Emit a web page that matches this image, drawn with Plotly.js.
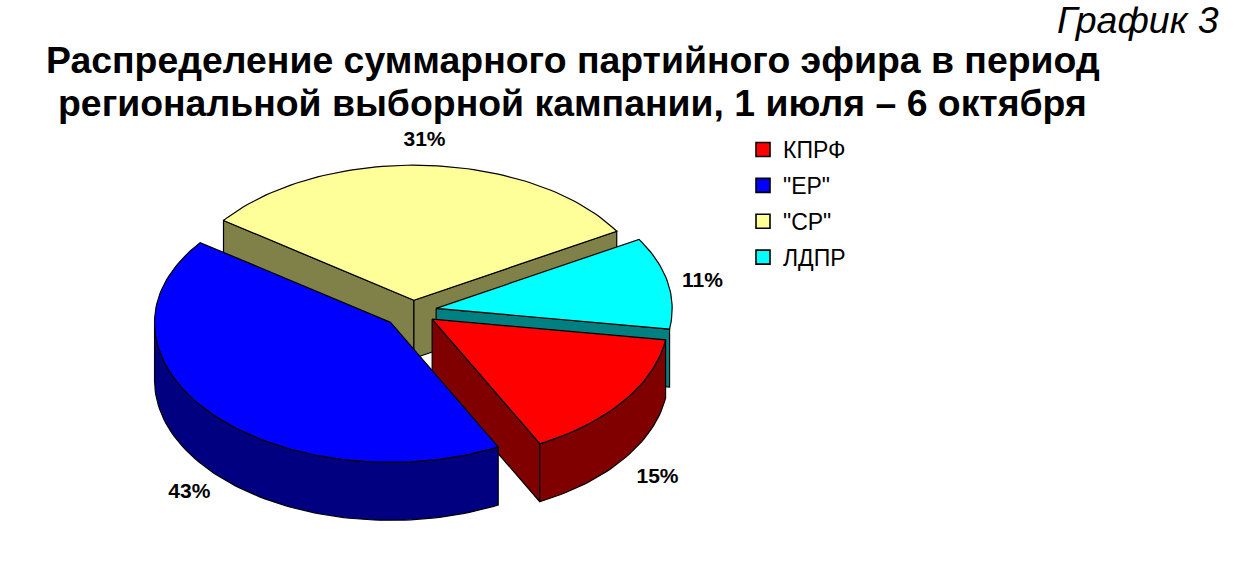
<!DOCTYPE html>
<html><head><meta charset="utf-8">
<script src="https://cdn.plot.ly/plotly-3.0.1.min.js"></script>
<style>html,body{margin:0;padding:0;background:#fff}#c{width:1245px;height:562px}</style>
</head><body><div id="c"></div>
<script>
const categories = ['КПРФ', '"ЕР"', '"СР"', 'ЛДПР'];
const shares = [15.1, 42.6, 31.4, 10.9];
const topColors = ['#FF0000', '#0000FF', '#FFFF99', '#00FFFF'];
const sideColors = ['#800000', '#000080', '#808049', '#008080'];
const pulls = [0.1, 0.125, 0.08, 0.1];
const titleLines = ['Распределение суммарного партийного эфира в период', 'региональной выборной кампании, 1 июля – 6 октября'];
const chartNote = 'График 3';

const cx = 413, cy = 311, rx = 236, ryFar = 135, ryNear = 140, depth = 58, startDeg = 98.5;
const labelReachX = [301, 294, 240, 295], labelReachY = [286, 280, 170, 150];
const total = shares.reduce((a, b) => a + b, 0);
const rad = d => d * Math.PI / 180;
const north = c => (c >= 0 ? ryFar : ryNear) * c;
let acc = startDeg;
const slices = shares.map((v, i) => {
  const a0 = acc, a1 = acc + v / total * 360; acc = a1;
  const mid = rad((a0 + a1) / 2);
  return { i, a0, a1, mid, ox: cx + pulls[i] * rx * Math.sin(mid), oy: cy - pulls[i] * north(Math.cos(mid)) };
});
const pt = (s, deg, dz) => [s.ox + rx * Math.sin(rad(deg)), s.oy - north(Math.cos(rad(deg))) + dz];
function arc(s, a0, a1, dz) {
  const pts = [], n = Math.max(2, Math.ceil((a1 - a0) / 1.5));
  for (let k = 0; k <= n; k++) pts.push(pt(s, a0 + (a1 - a0) * k / n, dz));
  return pts;
}
const traces = [];
function poly(pts, fill) {
  const c = pts.concat([pts[0]]);
  traces.push({ type: 'scatter', mode: 'lines', x: c.map(p => p[0]), y: c.map(p => p[1]), fill: 'toself',
    fillcolor: fill, line: { color: '#000', width: 1.2 }, hoverinfo: 'skip', showlegend: false });
}
function wall(s, deg) {
  poly([[s.ox, s.oy], pt(s, deg, 0), pt(s, deg, depth), [s.ox, s.oy + depth]], sideColors[s.i]);
}
[2, 3, 0, 1].forEach(i => {
  const s = slices[i];
  if (Math.sin(rad(s.a0)) < 0) wall(s, s.a0);
  if (Math.sin(rad(s.a1)) > 0) wall(s, s.a1);
  const r0 = Math.max(s.a0, 90), r1 = Math.min(s.a1, 270);
  if (r1 > r0) poly(arc(s, r0, r1, 0).concat(arc(s, r0, r1, depth).reverse()), sideColors[i]);
  poly([[s.ox, s.oy]].concat(arc(s, s.a0, s.a1, 0)), topColors[i]);
});
traces.push({ type: 'scatter', mode: 'text', showlegend: false, hoverinfo: 'skip',
  x: slices.map(s => cx + labelReachX[s.i] * Math.sin(s.mid)),
  y: slices.map(s => cy - labelReachY[s.i] * Math.cos(s.mid)),
  text: shares.map(v => Math.round(v) + '%'),
  textfont: { family: 'Liberation Sans', size: 21, color: '#000', weight: 700 }, textposition: 'middle center' });
categories.forEach((c, i) => traces.push({ type: 'scatter', mode: 'markers', x: [-100], y: [-100], name: c,
  legendgroup: c, marker: { symbol: 'square', size: 14, color: topColors[i], line: { color: '#000', width: 1.6 } } }));

const layout = {
  width: 1245, height: 562, margin: { l: 0, r: 0, t: 0, b: 0 }, paper_bgcolor: '#fff', plot_bgcolor: '#fff',
  xaxis: { range: [0, 1245], visible: false, fixedrange: true },
  yaxis: { range: [562, 0], visible: false, fixedrange: true },
  showlegend: true,
  legend: { x: 743 / 1245, y: 1 - 128 / 562, xanchor: 'left', yanchor: 'top', traceorder: 'grouped', tracegroupgap: 3,
    font: { family: 'Liberation Sans', size: 23, color: '#000' }, bgcolor: 'rgba(0,0,0,0)' },
  annotations: [
    { text: titleLines[0], xref: 'x', yref: 'y', x: 572.5, y: 59.5, showarrow: false,
      font: { family: 'Liberation Sans', size: 37.4, color: '#000', weight: 700 } },
    { text: titleLines[1], xref: 'x', yref: 'y', x: 572.5, y: 103, showarrow: false,
      font: { family: 'Liberation Sans', size: 37.4, color: '#000', weight: 700 } },
    { text: '<i>' + chartNote + '</i>', xref: 'x', yref: 'y', x: 1221, y: 20, xanchor: 'right', showarrow: false,
      font: { family: 'Liberation Sans', size: 37.5, color: '#000' } }
  ]
};
Plotly.newPlot('c', traces, layout, { displayModeBar: false, staticPlot: true });
</script></body></html>
